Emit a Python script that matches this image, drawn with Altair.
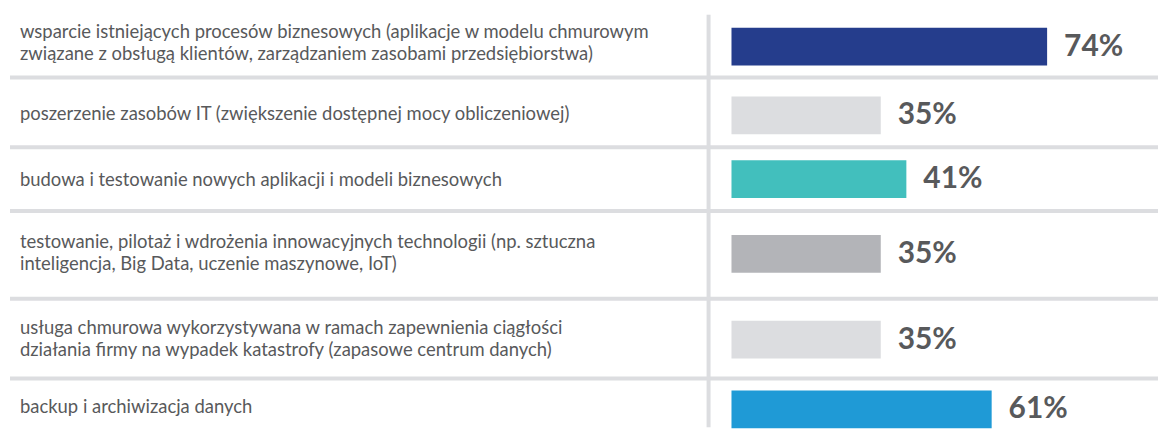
import altair as alt
import pandas as pd

labels = [
    "wsparcie istniejących procesów biznesowych (aplikacje w modelu chmurowym\nzwiązane z obsługą klientów, zarządzaniem zasobami przedsiębiorstwa)",
    "poszerzenie zasobów IT (zwiększenie dostępnej mocy obliczeniowej)",
    "budowa i testowanie nowych aplikacji i modeli biznesowych",
    "testowanie, pilotaż i wdrożenia innowacyjnych technologii (np. sztuczna\ninteligencja, Big Data, uczenie maszynowe, IoT)",
    "usługa chmurowa wykorzystywana w ramach zapewnienia ciągłości\ndziałania firmy na wypadek katastrofy (zapasowe centrum danych)",
    "backup i archiwizacja danych",
]
values = [74, 35, 41, 35, 35, 61]
colors = ["#253d8c", "#dcdde0", "#42bfbd", "#b3b4b8", "#dcdde0", "#1f9ad6"]

df = pd.DataFrame({
    "idx": list(range(len(labels))),
    "label": labels,
    "value": values,
    "color": colors,
})

# layout (row geometry, in pixels)
W = 1152
row_heights = [69, 70, 64, 88, 80, 49]
bar_centers = [38, 38, 32, 43, 41, 31]
text_tops = [23, 37, 33, 31, 29, 29]   # y of the first text line in each row
line_tops = [6, 0, 0, 0, 0, 0]
BAR_H = 38
GRID = "#dcdde0"
TXT = "#58595b"

xscale = alt.Scale(domain=[0, 100], range=[724, W])

rows = []
n = len(labels)
for i in range(n):
    h = row_heights[i]
    bc = bar_centers[i]
    tc = text_tops[i]
    base = alt.Chart(df).transform_filter(alt.datum.idx == i).transform_calculate(
        pct="datum.value + '%'"
    )
    layers = []
    if i < n - 1:
        layers.append(
            base.mark_rule(color=GRID, strokeWidth=4).encode(
                x=alt.value(0), x2=alt.value(W), y=alt.value(h)
            )
        )
    layers.append(
        base.mark_rule(color=GRID, strokeWidth=4).encode(
            x=alt.value(701), y=alt.value(line_tops[i]), y2=alt.value(h)
        )
    )
    layers.append(
        base.mark_bar().encode(
            x=alt.X("value:Q", scale=xscale, axis=None),
            x2=alt.datum(0),
            y=alt.value(bc - BAR_H / 2),
            y2=alt.value(bc + BAR_H / 2),
            color=alt.Color("color:N", scale=None),
        )
    )
    layers.append(
        base.mark_text(
            align="left", baseline="middle", dx=17, font="Lato",
            fontWeight="bold", fontSize=30, color=TXT,
        ).encode(
            x=alt.X("value:Q", scale=xscale, axis=None),
            y=alt.value(bc),
            text="pct:N",
        )
    )
    layers.append(
        base.mark_text(
            align="left", baseline="middle", lineBreak="\n", lineHeight=22,
            font="Lato", fontSize=18.5, color=TXT,
        ).encode(
            x=alt.value(10),
            y=alt.value(tc),
            text="label:N",
        )
    )
    rows.append(alt.layer(*layers).properties(width=W, height=h))

chart = alt.vconcat(*rows, spacing=0).properties(
    bounds="flush", padding=0
).configure_view(stroke=None)

chart.save("out.html", embed_options={"renderer": "svg", "actions": False})
